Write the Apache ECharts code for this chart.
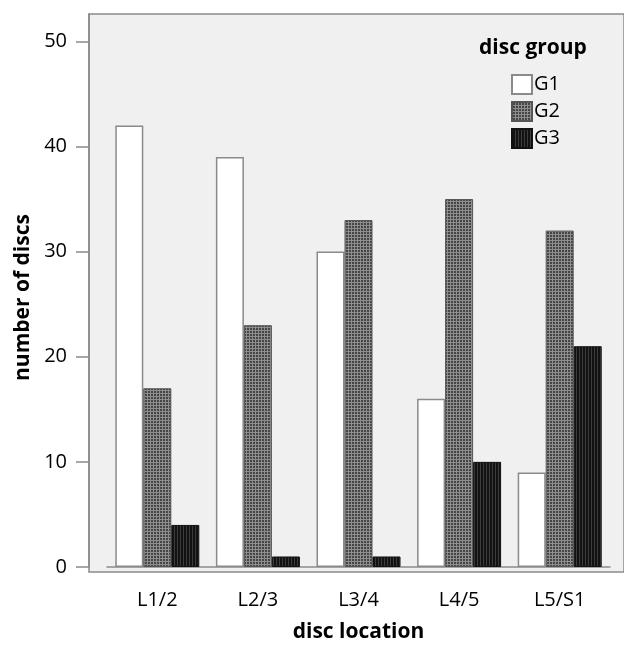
<!DOCTYPE html>
<html>
<head>
<meta charset="utf-8">
<script src="https://cdn.jsdelivr.net/npm/echarts@6/dist/echarts.min.js"></script>
<style>
  html, body { margin: 0; padding: 0; background: #fff; }
  #chart { width: 624px; height: 648px; }
</style>
</head>
<body>
<div id="chart"></div>
<script>
const locations = ['L1/2', 'L2/3', 'L3/4', 'L4/5', 'L5/S1']
const groups = ['G1', 'G2', 'G3']
const g1 = [42, 39, 30, 16, 9]
const g2 = [17, 23, 33, 35, 32]
const g3 = [4, 1, 1, 10, 21]
const yTicks = [0, 10, 20, 30, 40, 50]

// small hatch tiles, like the printed fill patterns
function tile (bg, fg, horiz) {
  let c = document.createElement('canvas')
  c.width = 3; c.height = 3
  let ctx = c.getContext('2d')
  ctx.fillStyle = bg
  ctx.fillRect(0, 0, 3, 3)
  ctx.fillStyle = fg
  ctx.fillRect(0, 0, 1, 3)
  if (horiz) ctx.fillRect(0, 0, 3, 1)
  return { image: c, repeat: 'repeat' }
}

const font = 'Open Sans'
const axisGray = '#8a8a8a'

let myChart = echarts.init(document.getElementById('chart'))

myChart.setOption({
  animation: false,
  title: {
    text: 'disc group',
    left: 474, top: 33,
    textStyle: { fontFamily: font, fontSize: 21, fontWeight: 'bold', color: '#000' }
  },
  legend: {
    orient: 'vertical',
    left: 506, top: 69,
    itemWidth: 20, itemHeight: 19, itemGap: 6,
    icon: 'rect',
    data: groups,
    textStyle: { fontFamily: font, fontSize: 20, color: '#000', padding: [0, 0, 0, -3] }
  },
  grid: [
    // plot frame
    { left: 89, right: -2, top: 14, bottom: 76, show: true, backgroundColor: '#f0f0f0',
      borderColor: axisGray, borderWidth: 1.5 },
    // bars
    { left: 107, right: 14, top: 14, bottom: 76 }
  ],
  xAxis: [
    { gridIndex: 0, type: 'value', show: false },
    {
      gridIndex: 1,
      type: 'category',
      data: locations,
      name: 'disc location',
      nameLocation: 'middle',
      nameGap: 55,
      nameTextStyle: { fontFamily: font, fontSize: 21, fontWeight: 'bold', color: '#000' },
      axisLine: { lineStyle: { color: axisGray, width: 1.5 } },
      axisTick: { alignWithLabel: true, length: 13, lineStyle: { color: axisGray, width: 1.5 } },
      axisLabel: { fontFamily: font, fontSize: 20, color: '#000', margin: 23 }
    }
  ],
  yAxis: [
    { gridIndex: 0, type: 'value', show: false },
    {
      gridIndex: 1,
      type: 'value',
      min: 0, max: 52.6,
      offset: 18,
      name: 'number of discs',
      nameLocation: 'middle',
      nameGap: 55,
      nameTextStyle: { fontFamily: font, fontSize: 21, fontWeight: 'bold', color: '#000', padding: [0, 14, 0, 0] },
      axisLine: { show: true, lineStyle: { color: axisGray, width: 1.5 } },
      axisTick: { show: true, length: 13, customValues: yTicks, lineStyle: { color: axisGray, width: 1.5 } },
      axisLabel: { fontFamily: font, fontSize: 20, color: '#000', margin: 22, customValues: yTicks },
      splitLine: { show: false }
    }
  ],
  series: [
    {
      name: 'G1', type: 'bar', xAxisIndex: 1, yAxisIndex: 1,
      data: g1, barWidth: 28, barGap: '0%',
      itemStyle: { color: '#ffffff', borderColor: '#8a8a8a', borderWidth: 1.5 }
    },
    {
      name: 'G2', type: 'bar', xAxisIndex: 1, yAxisIndex: 1,
      data: g2, barWidth: 28, barGap: '0%',
      itemStyle: { color: tile('#464646', '#8e8e8e', true), borderColor: '#555', borderWidth: 1 }
    },
    {
      name: 'G3', type: 'bar', xAxisIndex: 1, yAxisIndex: 1,
      data: g3, barWidth: 28, barGap: '0%',
      itemStyle: { color: tile('#121212', '#3c3c3c', false), borderColor: '#111', borderWidth: 1 }
    }
  ]
})
</script>
</body>
</html>
